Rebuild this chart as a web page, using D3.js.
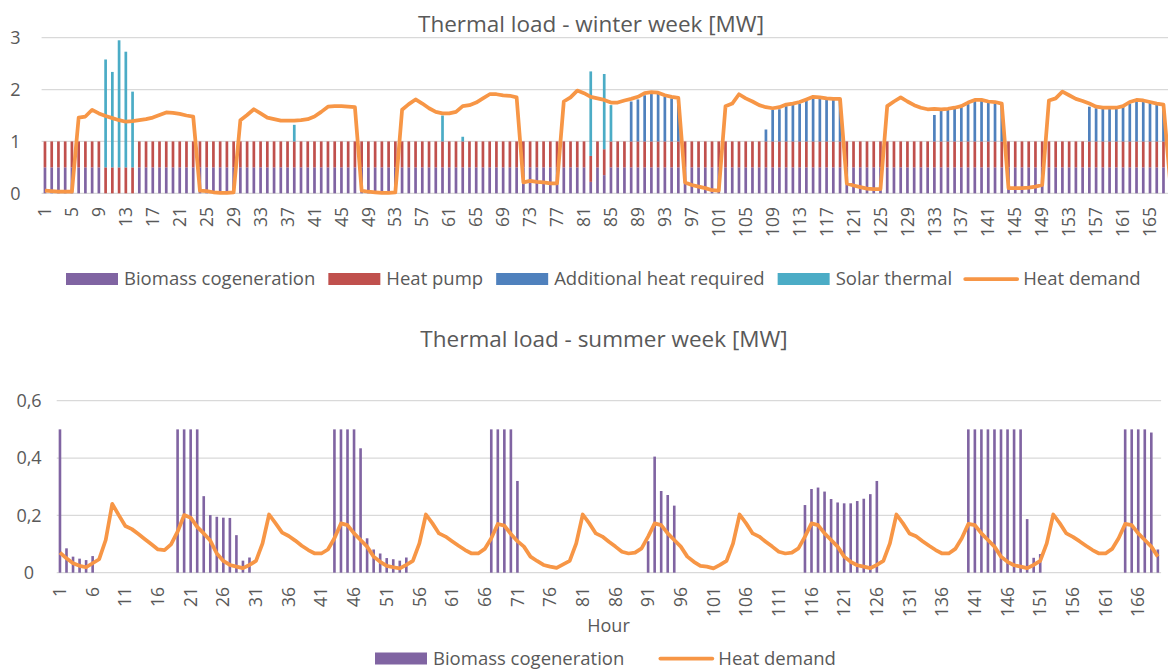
<!DOCTYPE html>
<html>
<head>
<meta charset="utf-8">
<script src="https://cdnjs.cloudflare.com/ajax/libs/d3/7.8.5/d3.min.js"></script>
<style>
  body { margin: 0; background: #fff; }
  svg { display: block; font-family: "Open Sans", sans-serif; }
</style>
</head>
<body>
<svg id="chart" width="1168" height="671"></svg>
<script>
// ---- data: winter week (hours 1..169) ----
const winterBiomass = [
  0.5,0.5,0.5,0.5,0.5,0.5,0.5,0.5,0.5,0,0,0,0,0,0.5,0.5,0.5,0.5,0.5,0.5,0.5,0.5,0.5,0.5,
  0.5,0.5,0.5,0.5,0.5,0.5,0.5,0.5,0.5,0.5,0.5,0.5,0.5,0.5,0.5,0.5,0.5,0.5,0.5,0.5,0.5,0.5,0.5,0.5,
  0.5,0.5,0.5,0.5,0.5,0.5,0.5,0.5,0.5,0.5,0.5,0.5,0.5,0.5,0.5,0.5,0.5,0.5,0.5,0.5,0.5,0.5,0.5,0.5,
  0.5,0.5,0.5,0.5,0.5,0.5,0.5,0.5,0.5,0.22,0.5,0.35,0.5,0.5,0.5,0.5,0.5,0.5,0.5,0.5,0.5,0.5,0.5,0.5,
  0.5,0.5,0.5,0.5,0.5,0.5,0.5,0.5,0.5,0.5,0.5,0.5,0.5,0.5,0.5,0.5,0.5,0.5,0.5,0.5,0.5,0.5,0.5,0.5,
  0.5,0.5,0.5,0.5,0.5,0.5,0.5,0.5,0.5,0.5,0.5,0.5,0.5,0.5,0.5,0.5,0.5,0.5,0.5,0.5,0.5,0.5,0.5,0.5,
  0.5,0.5,0.5,0.5,0.5,0.5,0.5,0.5,0.5,0.5,0.5,0.5,0.5,0.5,0.5,0.5,0.5,0.5,0.5,0.5,0.5,0.5,0.5,0.5,
  0.5
];
const winterHeatPump = [
  0.5,0.5,0.5,0.5,0.5,0.5,0.5,0.5,0.5,0.5,0.5,0.5,0.5,0.5,0.5,0.5,0.5,0.5,0.5,0.5,0.5,0.5,0.5,0.5,
  0.5,0.5,0.5,0.5,0.5,0.5,0.5,0.5,0.5,0.5,0.5,0.5,0.5,0.5,0.5,0.5,0.5,0.5,0.5,0.5,0.5,0.5,0.5,0.5,
  0.5,0.5,0.5,0.5,0.5,0.5,0.5,0.5,0.5,0.5,0.5,0.5,0.5,0.5,0.5,0.5,0.5,0.5,0.5,0.5,0.5,0.5,0.5,0.5,
  0.5,0.5,0.5,0.5,0.5,0.5,0.5,0.5,0.5,0.5,0.5,0.5,0.5,0.5,0.5,0.5,0.5,0.5,0.5,0.5,0.5,0.5,0.5,0.5,
  0.5,0.5,0.5,0.5,0.5,0.5,0.5,0.5,0.5,0.5,0.5,0.5,0.5,0.5,0.5,0.5,0.5,0.5,0.5,0.5,0.5,0.5,0.5,0.5,
  0.5,0.5,0.5,0.5,0.5,0.5,0.5,0.5,0.5,0.5,0.5,0.5,0.5,0.5,0.5,0.5,0.5,0.5,0.5,0.5,0.5,0.5,0.5,0.5,
  0.5,0.5,0.5,0.5,0.5,0.5,0.5,0.5,0.5,0.5,0.5,0.5,0.5,0.5,0.5,0.5,0.5,0.5,0.5,0.5,0.5,0.5,0.5,0.5,
  0.5
];
const winterAdditional = [
  0,0,0,0,0,0,0,0,0,0,0,0,0,0,0,0,0,0,0,0,0,0,0,0,
  0,0,0,0,0,0,0,0,0,0,0,0,0,0,0,0,0,0,0,0,0,0,0,0,
  0,0,0,0,0,0,0,0,0,0,0,0,0,0,0,0,0,0,0,0,0,0,0,0,
  0,0,0,0,0,0,0,0,0,0,0,0,0,0,0,0.77,0.81,0.89,0.92,0.92,0.87,0.83,0.80,0,
  0,0,0,0,0,0,0,0,0,0,0,0.23,0.61,0.62,0.68,0.71,0.73,0.79,0.83,0.82,0.80,0.80,0.80,0,
  0,0,0,0,0,0,0,0,0,0,0,0,0.51,0.61,0.62,0.63,0.66,0.72,0.78,0.78,0.76,0.73,0.71,0,
  0,0,0,0,0,0,0,0,0,0,0,0.67,0.64,0.64,0.64,0.64,0.67,0.73,0.78,0.78,0.75,0.72,0.70,0,
  0
];
const winterSolar = [
  0,0,0,0,0,0,0,0,0,2.08,1.84,2.45,2.23,1.46,0,0,0,0,0,0,0,0,0,0,
  0,0,0,0,0,0,0,0,0,0,0,0,0,0.32,0,0,0,0,0,0,0,0,0,0,
  0,0,0,0,0,0,0,0,0,0,0,0.50,0,0,0.09,0,0,0,0,0,0,0,0,0,
  0,0,0,0,0,0,0,0,0,1.63,0,1.45,0.70,0,0,0,0,0,0,0,0,0,0,0,
  0,0,0,0,0,0,0,0,0,0,0,0,0,0,0,0,0,0,0,0,0,0,0,0,
  0,0,0,0,0,0,0,0,0,0,0,0,0,0,0,0,0,0,0,0,0,0,0,0,
  0,0,0,0,0,0,0,0,0,0,0,0,0,0,0,0,0,0,0,0,0,0,0,0,
  0
];
const winterDemand = [
  0.05,0.04,0.03,0.03,0.03,1.46,1.48,1.61,1.54,1.49,1.45,1.41,1.38,1.39,1.41,1.43,1.46,1.51,1.56,1.55,1.53,1.50,1.48,0.05,
  0.04,0.02,0.01,0.01,0.02,1.41,1.51,1.62,1.54,1.46,1.43,1.40,1.40,1.40,1.41,1.43,1.48,1.57,1.67,1.68,1.68,1.67,1.66,0.05,
  0.03,0.02,0.01,0.01,0.02,1.61,1.72,1.81,1.73,1.64,1.57,1.54,1.54,1.57,1.68,1.70,1.75,1.83,1.91,1.91,1.89,1.88,1.85,0.21,
  0.24,0.22,0.21,0.19,0.19,1.77,1.85,1.98,1.93,1.86,1.83,1.80,1.75,1.75,1.79,1.82,1.86,1.93,1.95,1.94,1.89,1.86,1.84,0.21,
  0.16,0.13,0.10,0.06,0.05,1.68,1.73,1.91,1.83,1.77,1.70,1.66,1.64,1.66,1.71,1.73,1.76,1.81,1.86,1.85,1.83,1.82,1.82,0.19,
  0.15,0.12,0.09,0.08,0.08,1.68,1.77,1.85,1.77,1.70,1.65,1.62,1.63,1.62,1.63,1.65,1.68,1.75,1.80,1.80,1.77,1.76,1.73,0.10,
  0.10,0.10,0.11,0.13,0.16,1.79,1.83,1.96,1.89,1.82,1.78,1.73,1.67,1.65,1.65,1.65,1.68,1.76,1.80,1.79,1.76,1.73,1.71,0.20,
  0.20
];

// ---- data: summer week (hours 1..169) ----
const summerBiomass = [
  0.50,0.085,0.056,0.049,0.044,0.058,0,0,0,0,0,0,0,0,0,0,0,0,0.5,0.5,0.5,0.5,0.267,0.201,
  0.195,0.192,0.191,0.131,0.042,0.053,0,0,0,0,0,0,0,0,0,0,0,0,0.5,0.5,0.5,0.5,0.434,0.12,
  0.081,0.067,0.051,0.047,0.042,0.053,0,0,0,0,0,0,0,0,0,0,0,0,0.5,0.5,0.5,0.5,0.32,0,
  0,0,0,0,0,0,0,0,0,0,0,0,0,0,0,0,0,0,0.11,0.405,0.285,0.271,0.234,0,
  0,0,0,0,0,0,0,0,0,0,0,0,0,0,0,0,0,0,0.236,0.292,0.297,0.283,0.257,0.245,
  0.242,0.242,0.250,0.258,0.274,0.320,0,0,0,0,0,0,0,0,0,0,0,0,0,0.5,0.5,0.5,0.5,0.5,
  0.5,0.5,0.5,0.5,0.187,0.052,0.065,0,0,0,0,0,0,0,0,0,0,0,0,0.5,0.5,0.5,0.5,0.489,
  0.081
];
const summerDemand = [
  0.070,0.050,0.033,0.024,0.019,0.033,0.047,0.114,0.240,0.201,0.163,0.152,0.135,0.117,0.099,0.081,0.079,0.099,0.143,0.201,0.192,0.160,0.137,0.112,
  0.067,0.041,0.027,0.021,0.016,0.027,0.041,0.102,0.203,0.172,0.140,0.128,0.112,0.094,0.079,0.067,0.067,0.081,0.120,0.172,0.166,0.137,0.114,0.091,
  0.056,0.038,0.024,0.019,0.015,0.027,0.041,0.102,0.203,0.172,0.137,0.126,0.110,0.094,0.079,0.067,0.067,0.083,0.120,0.170,0.164,0.135,0.110,0.091,
  0.056,0.041,0.027,0.021,0.017,0.029,0.041,0.102,0.203,0.172,0.137,0.126,0.108,0.091,0.073,0.067,0.070,0.085,0.126,0.172,0.166,0.137,0.114,0.091,
  0.056,0.038,0.024,0.021,0.015,0.027,0.041,0.102,0.203,0.172,0.137,0.126,0.108,0.091,0.073,0.067,0.070,0.085,0.126,0.172,0.166,0.137,0.114,0.091,
  0.056,0.038,0.026,0.021,0.016,0.027,0.041,0.102,0.203,0.172,0.137,0.127,0.110,0.094,0.079,0.067,0.067,0.083,0.120,0.170,0.166,0.137,0.114,0.091,
  0.056,0.038,0.026,0.021,0.016,0.027,0.041,0.102,0.203,0.172,0.137,0.125,0.110,0.094,0.079,0.067,0.067,0.083,0.120,0.170,0.166,0.137,0.114,0.091,
  0.056
];

const hours = d3.range(1, 170);
const winterTicks = d3.range(1, 166, 4);
const summerTicks = d3.range(1, 167, 5);
const winterYTicks = [0, 1, 2, 3];
const summerYTicks = [0, 0.2, 0.4, 0.6];

const winterKeys = ["biomass", "heatPump", "additional", "solar"];
const colors = {
  biomass: "#8064A2", heatPump: "#C0504D", additional: "#4F81BD",
  solar: "#4BACC6", demand: "#F79646"
};
const labels = {
  biomass: "Biomass cogeneration", heatPump: "Heat pump",
  additional: "Additional heat required", solar: "Solar thermal", demand: "Heat demand"
};
const textColor = "#595959", gridColor = "#d9d9d9";

const svg = d3.select("#chart");
svg.append("rect").attr("width", 1168).attr("height", 671).attr("fill", "#fff");

// ---- helper drawing one panel ----
function drawPanel(opt) {
  const g = svg.append("g");
  const x = d3.scaleBand().domain(hours).range(opt.xRange)
    .paddingInner(0.6).paddingOuter(0.3);
  const y = d3.scaleLinear().domain(opt.yDomain).range(opt.yRange);
  const cx = h => x(h) + x.bandwidth() / 2;

  // gridlines
  g.append("g").selectAll("line").data(opt.yTicks).join("line")
    .attr("x1", opt.xRange[0]).attr("x2", opt.gridEnd)
    .attr("y1", d => y(d)).attr("y2", d => y(d))
    .attr("stroke", gridColor).attr("stroke-width", 1.3);

  // y labels
  g.append("g").selectAll("text").data(opt.yTicks).join("text")
    .attr("x", opt.yLabelX).attr("y", d => y(d)).attr("dy", "0.35em")
    .attr("text-anchor", "middle").attr("fill", textColor)
    .style("font-size", "18px").text(opt.yFormat);

  // x labels, rotated
  g.append("g").selectAll("text").data(opt.xTicks).join("text")
    .attr("transform", d => `translate(${cx(d)},${opt.xLabelY}) rotate(-90)`)
    .attr("dy", "0.35em").attr("text-anchor", "end").attr("fill", textColor)
    .style("font-size", "17.5px").text(d => d);

  // stacked bars
  const series = d3.stack().keys(opt.keys)(opt.rows);
  g.append("g").selectAll("g").data(series).join("g")
    .attr("fill", s => colors[s.key])
    .selectAll("rect").data(s => s.filter(d => d[1] - d[0] > 0)).join("rect")
    .attr("x", d => x(d.data.hour)).attr("width", x.bandwidth())
    .attr("y", d => y(d[1])).attr("height", d => y(d[0]) - y(d[1]));

  // demand line
  g.append("path").datum(opt.rows)
    .attr("fill", "none").attr("stroke", colors.demand).attr("stroke-width", 3.75)
    .attr("stroke-linejoin", "round")
    .attr("d", d3.line().x(d => cx(d.hour)).y(d => y(d.demand)));

  // title
  g.append("text").attr("x", opt.titleX).attr("y", opt.titleY)
    .attr("text-anchor", "middle").attr("fill", textColor)
    .style("font-size", "22.5px").text(opt.title);
}

function drawLegend(items, startX, cyy, gap) {
  const lg = svg.append("g");
  let cur = startX;
  items.forEach(k => {
    if (k === "demand") {
      lg.append("line").attr("x1", cur).attr("x2", cur + 52)
        .attr("y1", cyy).attr("y2", cyy)
        .attr("stroke", colors.demand).attr("stroke-width", 3.75).attr("stroke-linecap", "round");
    } else {
      lg.append("rect").attr("x", cur).attr("y", cyy - 6).attr("width", 52).attr("height", 12)
        .attr("fill", colors[k]);
    }
    const t = lg.append("text").attr("x", cur + 58).attr("y", cyy).attr("dy", "0.35em")
      .attr("fill", textColor).style("font-size", "18.5px").text(labels[k]);
    cur += 58 + t.node().getComputedTextLength() + gap;
  });
}

// ---- winter ----
const winterRows = hours.map((h, i) => ({
  hour: h, biomass: winterBiomass[i], heatPump: winterHeatPump[i],
  additional: winterAdditional[i], solar: winterSolar[i], demand: winterDemand[i]
}));
drawPanel({
  rows: winterRows, keys: winterKeys,
  xRange: [41.6, 41.6 + 169 * 6.738], gridEnd: 1168,
  yDomain: [0, 3], yRange: [193.3, 37.7], yTicks: winterYTicks,
  yFormat: d => d, yLabelX: 15.5,
  xTicks: winterTicks, xLabelY: 207,
  title: "Thermal load - winter week [MW]", titleX: 591, titleY: 31.5
});
drawLegend(["biomass", "heatPump", "additional", "solar", "demand"], 66, 279, 13);

// ---- summer ----
const summerRows = hours.map((h, i) => ({
  hour: h, biomass: summerBiomass[i], demand: summerDemand[i]
}));
drawPanel({
  rows: summerRows, keys: ["biomass"],
  xRange: [56.7, 56.7 + 169 * 6.535], gridEnd: 56.7 + 169 * 6.535,
  yDomain: [0, 0.6], yRange: [572.7, 400.7], yTicks: summerYTicks,
  yFormat: d => d === 0 ? "0" : String(d).replace(".", ","), yLabelX: 29,
  xTicks: summerTicks, xLabelY: 587,
  title: "Thermal load - summer week [MW]", titleX: 604, titleY: 347
});
svg.append("text").attr("x", 608.5).attr("y", 632)
  .attr("text-anchor", "middle").attr("fill", textColor)
  .style("font-size", "18px").text("Hour");
drawLegend(["biomass", "demand"], 375, 658.5, 36);
</script>
</body>
</html>
